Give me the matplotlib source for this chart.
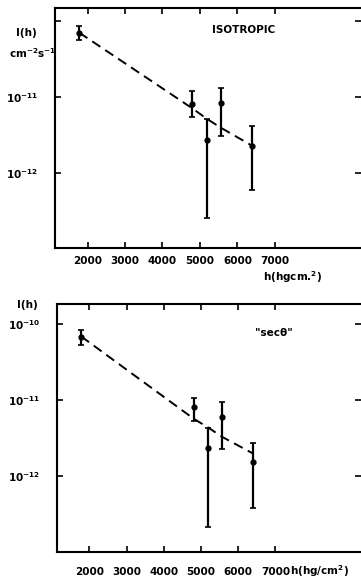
import numpy as np
import matplotlib
matplotlib.use("Agg")
import matplotlib.pyplot as plt
from matplotlib import font_manager
from matplotlib.ticker import FixedLocator, NullLocator


def pick_font(names):
    for n in names:
        try:
            font_manager.findfont(n, fallback_to_default=False)
            return n
        except ValueError:
            pass
    return "DejaVu Sans"


FAM = pick_font(["Liberation Sans Narrow"])
FS = 9.5 if FAM != "DejaVu Sans" else 7.5
plt.rcParams["font.family"] = FAM
plt.rcParams["font.weight"] = "bold"
plt.rcParams["mathtext.fontset"] = "custom"
plt.rcParams["mathtext.rm"] = FAM + ":bold"
plt.rcParams["mathtext.bf"] = FAM + ":bold"
plt.rcParams["mathtext.default"] = "bf"

# depth h (hg/cm^2) of the measurement points
h = [1780, 4800, 5200, 5560, 6400]

# isotropic case: intensity, lower / upper end of error bar, dashed fit
iso_val = [6.95e-11, 8.0e-12, 2.7e-12, 8.2e-12, 2.24e-12]
iso_lo = [5.6e-11, 5.46e-12, 2.56e-13, 3.07e-12, 6.0e-13]
iso_hi = [8.5e-11, 1.19e-11, 5.1e-12, 1.29e-11, 4.11e-12]
iso_fit = [6.95e-11, 7.0e-12, 5.05e-12, 3.9e-12, 2.25e-12]

# "sec theta" case
sec_val = [6.7e-11, 8.2e-12, 2.39e-12, 6.07e-12, 1.55e-12]
sec_lo = [5.4e-11, 5.3e-12, 2.2e-13, 2.3e-12, 3.9e-13]
sec_hi = [8.4e-11, 1.07e-11, 4.37e-12, 9.4e-12, 2.77e-12]
sec_fit = [6.9e-11, 5.75e-12, 4.37e-12, 3.33e-12, 2.0e-12]

xticks = [2000, 3000, 4000, 5000, 6000, 7000]
yticks = [1e-10, 1e-11, 1e-12]

W, H = 361, 581
fig = plt.figure(figsize=(W / 100, H / 100), dpi=100)


def panel(rect, val, lo, hi, fit, ylim, ylabels, xpad):
    ax = fig.add_axes(rect)
    ax.set_yscale("log")
    ax.set_xlim(1130, 9300)
    ax.set_ylim(*ylim)
    val = np.array(val); lo = np.array(lo); hi = np.array(hi)
    ax.errorbar(h, val, yerr=[val - lo, hi - val], fmt="o", color="k",
                ms=3.5, elinewidth=1.6, capsize=2, capthick=1.2)
    ax.plot(h, fit, color="k", lw=1.4, dashes=(5, 3))
    ax.xaxis.set_major_locator(FixedLocator(xticks))
    ax.xaxis.set_minor_locator(NullLocator())
    ax.yaxis.set_major_locator(FixedLocator(yticks))
    ax.yaxis.set_minor_locator(NullLocator())
    ax.set_yticklabels(ylabels)
    ax.tick_params(direction="in", length=4, width=1.2, top=True, right=True,
                   labelsize=FS)
    ax.tick_params(axis="x", pad=xpad)
    ax.tick_params(axis="y", pad=12)
    for s in ("left", "bottom", "top"):
        ax.spines[s].set_linewidth(1.5)
    ax.spines["right"].set_visible(False)
    return ax


ax1 = panel([55 / W, 1 - 248 / H, 306 / W, 240 / H],
            iso_val, iso_lo, iso_hi, iso_fit, (1.02e-13, 1.47e-10),
            ["", r"$10^{-11}$", r"$10^{-12}$"], 6)
fig.text(244 / W, 1 - 30 / H, "ISOTROPIC", ha="center", va="center", fontsize=FS)
fig.text(16 / W, 1 - 33 / H, "I(h)", ha="left", va="center", fontsize=FS)
fig.text(9 / W, 1 - 53 / H, r"cm$^{-2}$s$^{-1}$", ha="left", va="center",
         fontsize=FS)
fig.text(263 / W, 1 - 277 / H, r"h(hgcm.$^{2}$)", ha="left", va="center",
         fontsize=FS)

ax2 = panel([57 / W, 1 - 552 / H, 304 / W, 248 / H],
            sec_val, sec_lo, sec_hi, sec_fit, (1.02e-13, 1.84e-10),
            [r"$10^{-10}$", r"$10^{-11}$", r"$10^{-12}$"], 11)
fig.text(274 / W, 1 - 333 / H, "\"secθ\"", ha="center", va="center",
         fontsize=FS)
fig.text(17 / W, 1 - 305 / H, "I(h)", ha="left", va="center", fontsize=FS)
fig.text(290 / W, 1 - 571 / H, r"h(hg/cm$^{2}$)", ha="left", va="center",
         fontsize=FS)

fig.savefig("out.png", dpi=100)
